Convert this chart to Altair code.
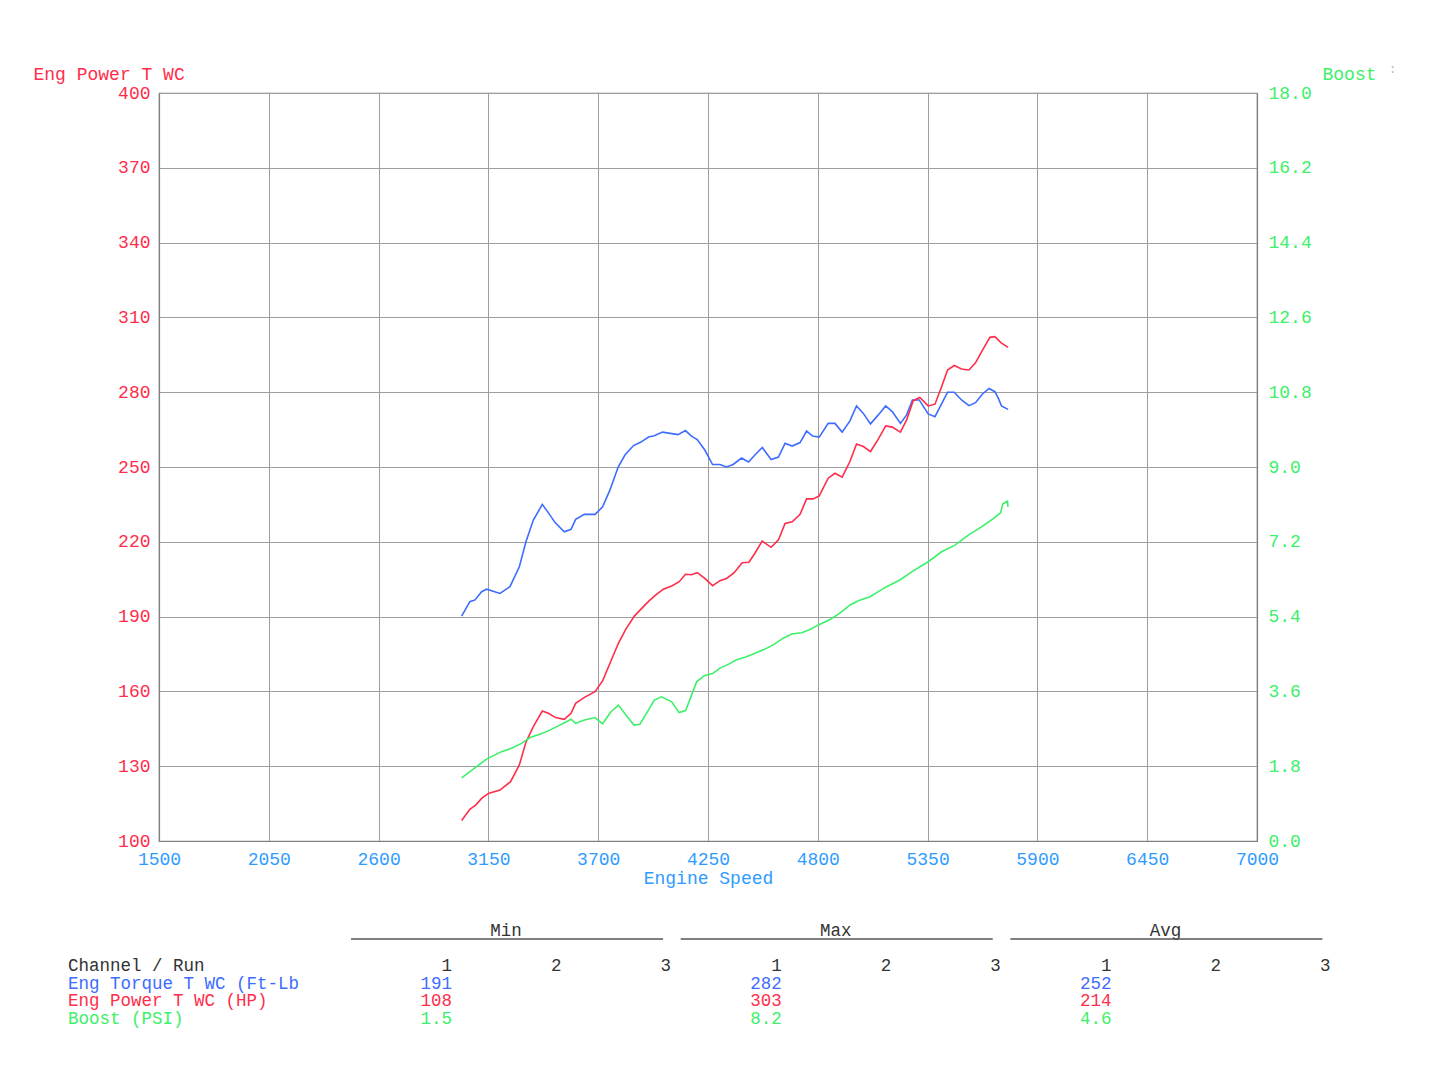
import altair as alt
import pandas as pd

# ---------------- data ----------------
torque_rpm = [3016, 3057, 3083, 3116, 3141, 3208, 3258, 3305, 3338, 3375, 3420, 3450, 3484, 3530,
              3564, 3587, 3631, 3684, 3722, 3759, 3800, 3834, 3877, 3914, 3952, 3981, 4022, 4100,
              4137, 4167, 4196, 4234, 4273, 4310, 4343, 4376, 4418, 4453, 4485, 4522, 4566, 4603,
              4636, 4672, 4711, 4744, 4774, 4807, 4852, 4886, 4922, 4961, 4994, 5028, 5064, 5103,
              5140, 5173, 5214, 5245, 5274, 5308, 5353, 5387, 5420, 5450, 5483, 5520, 5557, 5590,
              5625, 5658, 5687, 5703, 5720, 5753]
torque_ftlb = [190.2, 196.0, 196.7, 200.0, 201.0, 199.3, 202.0, 210.0, 220.0, 228.7, 235.0, 231.7,
               227.7, 224.0, 225.0, 229.0, 231.0, 231.0, 234.0, 240.8, 250.0, 254.8, 258.6, 260.0,
               262.0, 262.5, 264.0, 263.0, 264.6, 262.4, 261.0, 256.8, 251.0, 251.0, 250.0, 251.0,
               253.6, 252.0, 254.8, 257.8, 253.0, 254.0, 259.5, 258.4, 259.8, 264.4, 262.4, 262.0,
               267.5, 267.5, 264.0, 268.5, 274.5, 271.5, 267.3, 270.9, 274.5, 272.2, 267.5, 270.9,
               276.9, 276.9, 271.3, 270.2, 275.3, 280.0, 280.0, 276.9, 274.6, 275.8, 279.3, 281.5,
               280.2, 277.8, 274.5, 273.1]

power_rpm = [3016, 3057, 3086, 3116, 3150, 3208, 3261, 3305, 3338, 3375, 3420, 3450, 3487, 3530,
             3564, 3587, 3631, 3684, 3722, 3759, 3801, 3838, 3881, 3918, 3956, 3989, 4026, 4068,
             4106, 4137, 4167, 4196, 4234, 4273, 4310, 4343, 4381, 4421, 4455, 4485, 4521, 4566,
             4603, 4636, 4672, 4711, 4744, 4777, 4807, 4852, 4886, 4922, 4961, 4994, 5028, 5064,
             5103, 5140, 5173, 5214, 5245, 5278, 5311, 5353, 5387, 5420, 5450, 5483, 5520, 5557,
             5590, 5625, 5662, 5687, 5717, 5753]
power_hp = [108.2, 112.7, 114.4, 117.1, 119.1, 120.4, 123.8, 130.5, 139.6, 145.9, 152.1, 151.2,
            149.5, 148.8, 151.2, 155.2, 157.6, 159.9, 164.2, 171.3, 179.3, 184.9, 190.2, 193.3,
            196.4, 198.7, 201.0, 202.3, 204.0, 207.0, 206.8, 207.6, 205.3, 202.4, 204.4, 205.3,
            207.6, 211.6, 211.8, 215.4, 220.3, 217.8, 220.8, 227.4, 228.0, 231.0, 237.2, 237.2,
            238.4, 245.5, 247.5, 245.9, 252.2, 259.2, 258.2, 256.2, 261.2, 266.5, 266.0, 264.0,
            268.9, 276.6, 277.9, 274.5, 275.2, 282.2, 288.9, 290.7, 289.3, 288.9, 291.8, 296.9,
            302.0, 302.3, 299.9, 298.0]

boost_rpm = [3016, 3074, 3141, 3216, 3266, 3316, 3358, 3408, 3450, 3500, 3534, 3564, 3587, 3631,
             3684, 3722, 3762, 3801, 3839, 3879, 3909, 3942, 3981, 4017, 4068, 4105, 4138, 4193,
             4231, 4273, 4310, 4352, 4393, 4435, 4468, 4527, 4577, 4627, 4669, 4719, 4761, 4803,
             4862, 4912, 4962, 5003, 5062, 5103, 5145, 5211, 5278, 5353, 5420, 5487, 5554, 5620,
             5679, 5716, 5726, 5750, 5753]
boost_psi = [1.52, 1.73, 1.97, 2.15, 2.23, 2.35, 2.49, 2.57, 2.65, 2.77, 2.85, 2.93, 2.83, 2.91,
             2.97, 2.82, 3.10, 3.27, 3.03, 2.79, 2.81, 3.07, 3.39, 3.47, 3.35, 3.09, 3.14, 3.83,
             3.98, 4.03, 4.16, 4.25, 4.36, 4.42, 4.48, 4.60, 4.72, 4.88, 4.98, 5.01, 5.09, 5.20,
             5.33, 5.49, 5.68, 5.78, 5.88, 6.00, 6.12, 6.28, 6.50, 6.72, 6.96, 7.12, 7.36, 7.56,
             7.76, 7.90, 8.11, 8.18, 8.04]

x_ticks = [1500, 2050, 2600, 3150, 3700, 4250, 4800, 5350, 5900, 6450, 7000]
left_ticks = [100, 130, 160, 190, 220, 250, 280, 310, 340, 370, 400]
right_ticks = [0.0, 1.8, 3.6, 5.4, 7.2, 9.0, 10.8, 12.6, 14.4, 16.2, 18.0]

channels = ["Eng Torque T WC (Ft-Lb", "Eng Power T WC (HP)", "Boost (PSI)"]
stat_groups = ["Min", "Max", "Avg"]
runs = ["1", "2", "3"]
min_vals = ["191", "108", "1.5"]
max_vals = ["282", "303", "8.2"]
avg_vals = ["252", "214", "4.6"]

# ---------------- styling ----------------
FONT = "Liberation Mono"
FS = 18
TFS = 17.5
RED = "#ff2d4b"
BLUE = "#3d6cff"
GREEN = "#3cf06a"
XBLUE = "#2f9bff"
DARK = "#333333"
GRID = "#9e9e9e"
W, H = 1098, 748

torque_df = pd.DataFrame({"rpm": torque_rpm, "val": torque_ftlb})
power_df = pd.DataFrame({"rpm": power_rpm, "val": power_hp})
boost_df = pd.DataFrame({"rpm": boost_rpm, "psi": boost_psi})

x_enc = alt.X(
    "rpm:Q",
    scale=alt.Scale(domain=[1500, 7000], nice=False, zero=False),
    axis=alt.Axis(values=x_ticks, title="Engine Speed", labelColor=XBLUE, titleColor=XBLUE,
                  grid=True, gridColor=GRID, domainColor="#808080", ticks=False,
                  labelPadding=9, titlePadding=1, labelFlush=False, format="d"),
)

y_left = alt.Y(
    "val:Q",
    scale=alt.Scale(domain=[100, 400], nice=False, zero=False),
    axis=alt.Axis(values=left_ticks, title="Eng Power T WC", titleAngle=0, titleX=-126,
                  titleY=-19, titleAlign="left", titleBaseline="middle", labelColor=RED,
                  titleColor=RED, grid=True, gridColor=GRID, ticks=False, labelPadding=9,
                  domainColor="#808080", format="d"),
)

y_right = alt.Y(
    "psi:Q",
    scale=alt.Scale(domain=[0, 18], nice=False, zero=False),
    axis=alt.Axis(orient="right", values=right_ticks, format=".1f", title="Boost", titleAngle=0,
                  titleX=65, titleY=-19, titleAlign="left", titleBaseline="middle",
                  labelColor=GREEN, titleColor=GREEN, grid=False, ticks=False, labelPadding=11,
                  domainColor="#808080"),
)

torque_line = alt.Chart(torque_df).mark_line(color=BLUE, strokeWidth=1.6).encode(x=x_enc, y=y_left)
power_line = alt.Chart(power_df).mark_line(color=RED, strokeWidth=1.6).encode(x=x_enc, y=y_left)
boost_line = alt.Chart(boost_df).mark_line(color=GREEN, strokeWidth=1.6).encode(x=x_enc, y=y_right)

plot = alt.layer(alt.layer(torque_line, power_line), boost_line).resolve_scale(y="independent")

# ---------------- statistics table (laid out below the plot) ----------------
one = pd.DataFrame({"k": [0]})
table_layers = []


def txt(s, px, py, color, align="left", size=TFS):
    return alt.Chart(one).mark_text(
        font=FONT, fontSize=size, align=align, baseline="middle", color=color
    ).encode(x=alt.value(px), y=alt.value(py), text=alt.value(s))


row0 = 873
row_step = 17.7
group_step = 329.7
col_step = 109.5
first_col_right = 293
label_x = -91
ch_colors = [BLUE, RED, GREEN]
stat_vals = [min_vals, max_vals, avg_vals]

for g, name in enumerate(stat_groups):
    gx = g * group_step
    table_layers.append(txt(name, 347 + gx, 838, DARK, "center"))
    table_layers.append(
        alt.Chart(one).mark_rule(color="#555555", strokeWidth=1.6).encode(
            x=alt.value(192 + gx), x2=alt.value(504 + gx), y=alt.value(846)
        )
    )
    for c, r in enumerate(runs):
        table_layers.append(txt(r, first_col_right + gx + c * col_step, row0, DARK, "right"))
    for i, vals in enumerate(stat_vals[g]):
        table_layers.append(txt(vals, first_col_right + gx, row0 + (i + 1) * row_step, ch_colors[i], "right"))

table_layers.append(txt("Channel / Run", label_x, row0, DARK))
for i, ch in enumerate(channels):
    table_layers.append(txt(ch, label_x, row0 + (i + 1) * row_step, ch_colors[i]))
table_layers.append(txt(":", 1230, -24, "#bbbbbb", "left", 12))

chart = alt.layer(plot, *table_layers).properties(
    width=W,
    height=H,
    autosize=alt.AutoSizeParams(type="none"),
    padding={"left": 151, "top": 85, "right": 175, "bottom": 230},
).configure_axis(
    labelFont=FONT, labelFontSize=FS, titleFont=FONT, titleFontSize=FS,
    titleFontWeight="normal", gridWidth=1, domainWidth=1.2,
).configure_view(
    stroke="#808080", strokeWidth=1.2
)

chart.save("out.html", embed_options={"renderer": "svg", "actions": False})
